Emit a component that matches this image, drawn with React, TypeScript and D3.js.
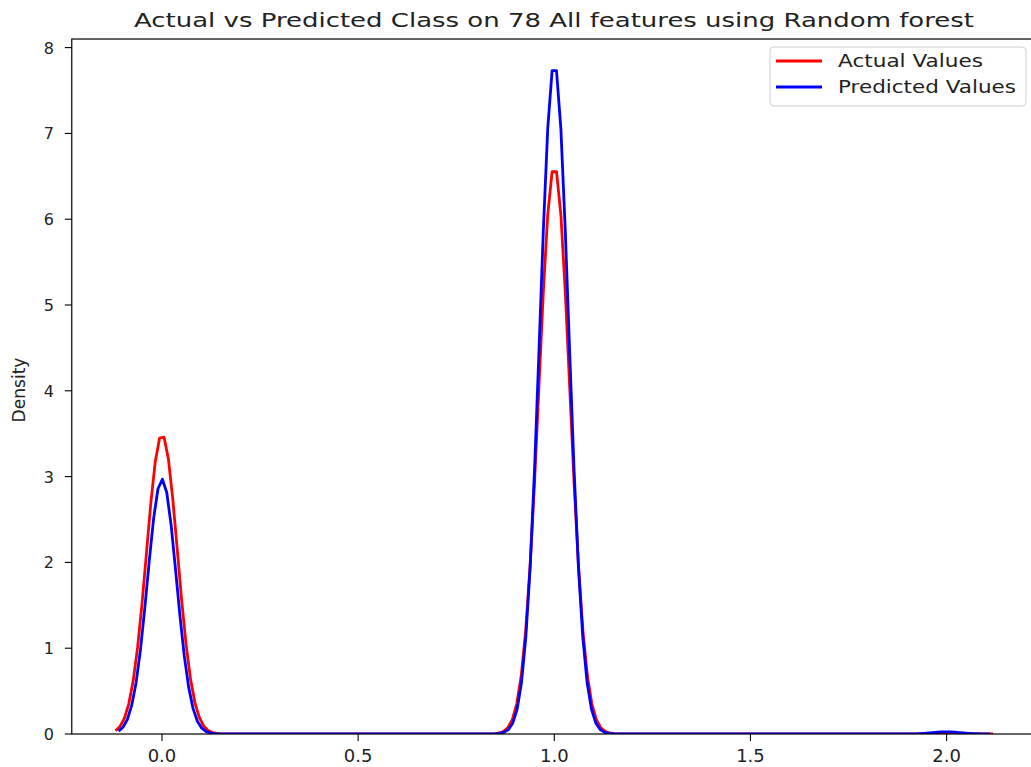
import React from "react";
import * as d3 from "d3";

// Class values present in the data
const classes = [0, 1, 2];
// Peak density of each class bump
const actualPeaks = [3.49, 6.62, 0.012];
const predictedPeaks = [2.97, 7.82, 0.025];
const actualBandwidth = 0.0395;
const predictedBandwidth = 0.0369;

const xTicks = [0, 0.5, 1, 1.5, 2];
const yTicks = [0, 1, 2, 3, 4, 5, 6, 7, 8];

const seriesNames = ["Actual Values", "Predicted Values"];
const seriesColors = ["#ff0000", "#0000ff"];

const title = "Actual vs Predicted Class on 78 All features using Random forest";

function kdeCurve(peaks: number[], bw: number, n = 200) {
  const lo = d3.min(classes)! - 3 * bw;
  const hi = d3.max(classes)! + 3 * bw;
  const pts: [number, number][] = [];
  for (let i = 0; i < n; i++) {
    const x = lo + ((hi - lo) * i) / (n - 1);
    let y = 0;
    classes.forEach((c, k) => {
      y += peaks[k] * Math.exp(-((x - c) ** 2) / (2 * bw * bw));
    });
    pts.push([x, y]);
  }
  return pts;
}

export default function App() {
  const W = 1031;
  const H = 767;
  const x = d3.scaleLinear().domain([-0.23, 2.23]).range([162 - 0.23 * 392.3, 162 + 2.23 * 392.3]);
  const y = d3.scaleLinear().domain([0, 8.1]).range([734, 734 - 8.1 * 85.8]);
  const [x0, x1] = x.range();
  const [yb, yt] = y.range();

  const line = d3
    .line<[number, number]>()
    .x((d) => x(d[0]))
    .y((d) => y(d[1]));

  const curves = [
    kdeCurve(actualPeaks, actualBandwidth),
    kdeCurve(predictedPeaks, predictedBandwidth),
  ];

  const font = "DejaVu Sans, sans-serif";

  return (
    <svg
      width={W}
      height={H}
      style={{ position: "absolute", left: 0, top: 0, background: "#fff" }}
    >
      <defs>
        <clipPath id="plotclip">
          <rect x={x0} y={yt} width={x1 - x0} height={yb - yt} />
        </clipPath>
      </defs>
      <rect x={0} y={0} width={W} height={H} fill="#fff" />

      {/* curves */}
      <g clipPath="url(#plotclip)">
        {curves.map((c, i) => (
          <path
            key={i}
            d={line(c) || ""}
            fill="none"
            stroke={seriesColors[i]}
            strokeWidth={2.8}
            strokeLinejoin="round"
          />
        ))}
      </g>

      {/* spines */}
      <rect x={x0} y={yt} width={x1 - x0} height={yb - yt} fill="none" stroke="#000" strokeWidth={1.2} />

      {/* x ticks */}
      {xTicks.map((t) => (
        <g key={t}>
          <line x1={x(t)} x2={x(t)} y1={yb} y2={yb + 7} stroke="#000" strokeWidth={1.1} />
          <text
            x={x(t)}
            y={762}
            textAnchor="middle"
            fontFamily={font}
            fontSize={18}
            fill="#222"
          >
            {t.toFixed(1)}
          </text>
        </g>
      ))}

      {/* y ticks */}
      {yTicks.map((t) => (
        <g key={t}>
          <line x1={x0 - 7} x2={x0} y1={y(t)} y2={y(t)} stroke="#000" strokeWidth={1.1} />
          <text
            x={54}
            y={y(t) + 6}
            textAnchor="end"
            fontFamily={font}
            fontSize={16}
            fill="#222"
          >
            {t}
          </text>
        </g>
      ))}

      {/* y label */}
      <text
        transform={`translate(25, ${390}) rotate(-90)`}
        textAnchor="middle"
        fontFamily={font}
        fontSize={17}
        textLength={65}
        lengthAdjust="spacingAndGlyphs"
        fill="#222"
      >
        Density
      </text>

      {/* title */}
      <text
        x={554}
        y={27}
        textAnchor="middle"
        fontFamily={font}
        fontSize={20}
        textLength={840}
        lengthAdjust="spacingAndGlyphs"
        fill="#222"
      >
        {title}
      </text>

      {/* legend */}
      <g>
        <rect x={770} y={47} width={256} height={59} rx={4} fill="#fff" fillOpacity={0.8} stroke="#d0d0d0" strokeWidth={1} />
        {seriesNames.map((n, i) => (
          <g key={n}>
            <line x1={776} x2={822} y1={61 + i * 26} y2={61 + i * 26} stroke={seriesColors[i]} strokeWidth={2.8} />
            <text
              x={838}
              y={67 + i * 26}
              fontFamily={font}
              fontSize={17}
              textLength={i === 0 ? 145 : 178}
              lengthAdjust="spacingAndGlyphs"
              fill="#222"
            >
              {n}
            </text>
          </g>
        ))}
      </g>
    </svg>
  );
}
